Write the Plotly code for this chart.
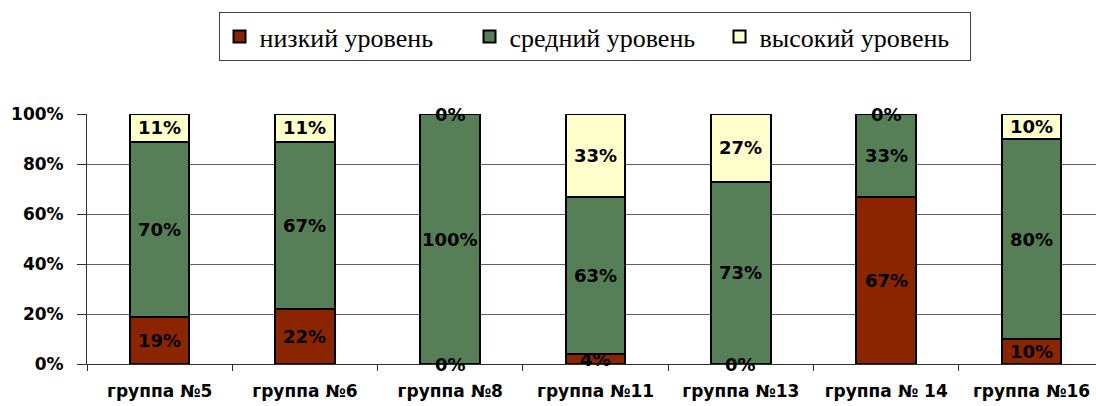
import plotly.graph_objects as go

categories = ["группа №5", "группа №6", "группа №8", "группа №11", "группа №13", "группа № 14", "группа №16"]
low = [19, 22, 0, 4, 0, 67, 10]
mid = [70, 67, 100, 63, 73, 33, 80]
high = [11, 11, 0, 33, 27, 0, 10]
series_names = ["низкий уровень", "средний уровень", "высокий уровень"]
colors = ["#8A2500", "#567F58", "#FFFFCC"]
y_ticks = [0, 20, 40, 60, 80, 100]
y_tick_text = ["0%", "20%", "40%", "60%", "80%", "100%"]

fig = go.Figure()
for name, vals, col in zip(series_names, [low, mid, high], colors):
    fig.add_trace(go.Bar(
        x=categories, y=vals, name=name,
        marker=dict(color=col, line=dict(color="black", width=2)),
        width=0.41,
    ))

annotations = []
for i, cat in enumerate(categories):
    base = 0
    for vals in [low, mid, high]:
        v = vals[i]
        annotations.append(dict(
            x=cat, y=base + v / 2, xref="x", yref="y",
            text=f"{v}%", showarrow=False,
            font=dict(family="DejaVu Sans", size=18, color="black", weight="bold"),
        ))
        base += v

fig.update_layout(
    barmode="stack",
    width=1096, height=406,
    margin=dict(l=87, r=0, t=114, b=42, autoexpand=False),
    paper_bgcolor="white", plot_bgcolor="white",
    annotations=annotations,
    legend=dict(
        orientation="h", x=0.503, xanchor="center", y=1.408, yanchor="top",
        font=dict(family="Liberation Serif", size=26, color="black"),
        bordercolor="#404040", borderwidth=1, bgcolor="white",
        traceorder="normal", entrywidth=205, entrywidthmode="pixels",
    ),
    xaxis=dict(
        range=[-0.5, 6.444],
        showline=True, linecolor="#303030", linewidth=1,
        ticks="outside", tickson="boundaries", ticklen=6, tickcolor="#303030",
        tickfont=dict(family="DejaVu Sans", size=17, color="black", weight="bold"),
        ticklabelstandoff=12,
        showgrid=False,
    ),
    yaxis=dict(
        range=[0, 100], tickvals=y_ticks, ticktext=y_tick_text,
        showline=True, linecolor="#303030", linewidth=1,
        ticks="outside", ticklen=9, tickcolor="#303030",
        ticklabelstandoff=10,
        showgrid=True, gridcolor="#606060", gridwidth=1,
        tickfont=dict(family="DejaVu Sans", size=17, color="black", weight="bold"),
    ),
)

fig.write_html("out.html", post_script="document.body.style.margin='0';",
               config={"displayModeBar": False})
